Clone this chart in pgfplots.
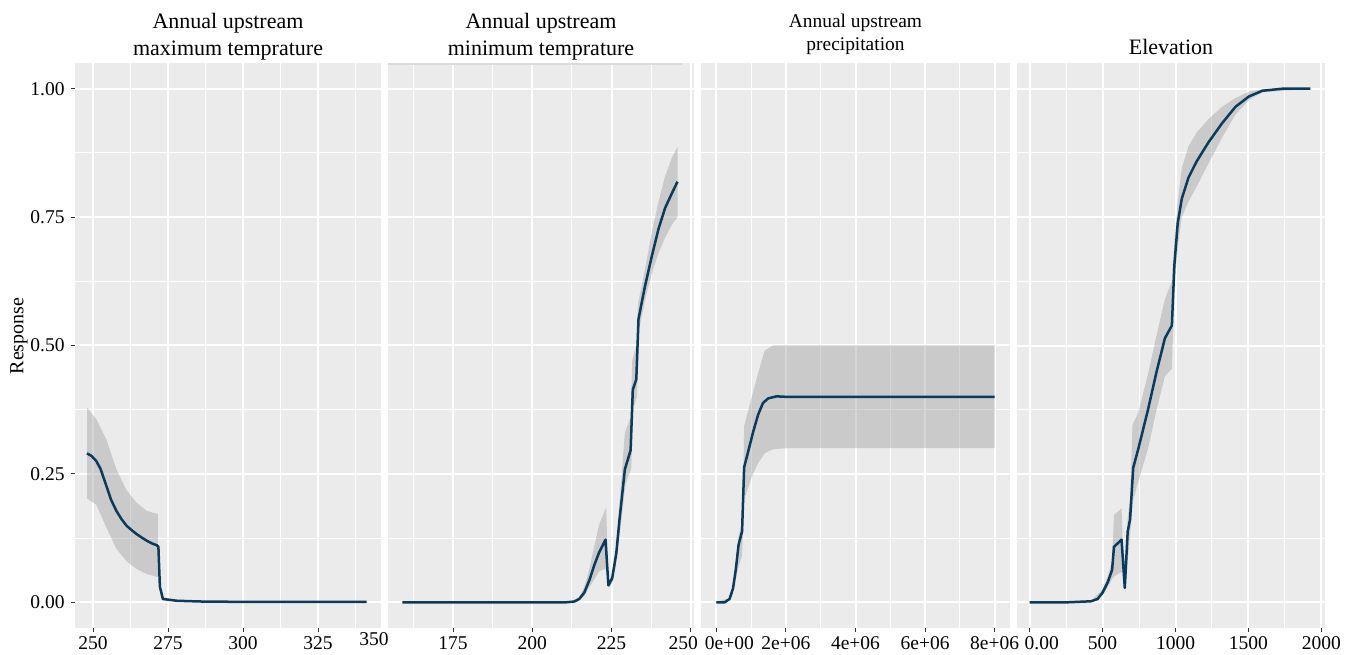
\documentclass[border=0pt]{standalone}
\usepackage{fontspec}
\setmainfont{Liberation Serif}
\usepackage{pgfplots}
\pgfplotsset{compat=1.18}
\definecolor{bg}{HTML}{EBEBEB}
\definecolor{ln}{HTML}{0B3B5C}
\definecolor{rib}{HTML}{999999}
\definecolor{band}{HTML}{DADADA}
\pgfplotsset{gg/.style={
  scale only axis, height=282.5pt,
  anchor=south west,
  axis background/.style={fill=bg},
  axis line style={draw=none},
  ymin=-0.05, ymax=1.05,
  ytick={0,0.25,0.5,0.75,1},
  minor ytick={0.125,0.375,0.625,0.875},
  grid=both,
  major grid style={white, line width=1pt},
  minor grid style={white, line width=0.5pt},
  tick pos=left,
  tick align=outside, major tick length=2pt, minor tick length=0pt,
  tick style={color=black!80, line width=0.5pt},
  ticklabel style={font=\fontsize{9.75}{11.7}\selectfont},
  /pgf/number format/assume math mode=true,
  xticklabel style={anchor=north, inner sep=0pt, yshift=-2.3pt},
  clip mode=individual,
},
ggno/.style={yticklabels={}, ytick style={draw opacity=0}},
rb/.style={fill=rib, fill opacity=0.4, draw=none, forget plot},
cv/.style={color=ln, line width=1.25pt, no marks, line join=round},
}
\begin{document}
\begin{tikzpicture}
\path[use as bounding box] (0,0) rectangle (675pt,327pt);

% Panel 1
\begin{axis}[gg, name=p1, at={(37.5pt,13pt)}, width=153pt,
  xmin=244, xmax=346,
  xtick={250,275,300,325}, minor xtick={262.5,287.5,312.5,337.5},
  extra x ticks={343.7}, extra x tick labels={\raisebox{1.75pt}{350}},
  extra x tick style={grid=none, major tick length=0pt},
  yticklabels={0.00,0.25,0.50,0.75,1.00},
  yticklabel style={anchor=east, inner sep=0pt, xshift=-3pt}]
\addplot[rb] coordinates {(248,0.379)(251.1,0.357)(254.5,0.316)(257.8,0.259)(261.2,0.218)(264.5,0.194)(267.9,0.178)(271.6,0.172)(271.6,0.049)(267.9,0.055)(264.5,0.065)(261.2,0.08)(257.8,0.104)(254.5,0.145)(251.1,0.19)(248,0.202)};
\addplot[cv] coordinates {(248,0.29)(249.5,0.285)(251.1,0.275)(252.5,0.26)(254.5,0.226)(256,0.2)(257.8,0.178)(259.5,0.162)(261.2,0.149)(263,0.14)(264.5,0.133)(266,0.127)(267.9,0.12)(269.5,0.115)(271.3,0.111)(271.8,0.108)(272.3,0.03)(273.3,0.0065)(278,0.003)(285.8,0.0016)(297,0.001)(341.2,0.001)};
\end{axis}

% Panel 2
\begin{axis}[gg, ggno, name=p2, at={(194pt,13pt)}, width=153pt,
  xmin=154.5, xmax=251,
  xtick={175,200,225,250}, minor xtick={162.5,187.5,212.5,237.5},
  xticklabels={175,200,225,{250\hspace*{7.6pt}}}]
\addplot[rb] coordinates {(159,0.001)(213,0.002)(214.8,0.01)(216.4,0.03)(218,0.065)(219.6,0.11)(221,0.15)(223.3,0.185)(224,0.04)(225.2,0.055)(226.5,0.11)(227.5,0.19)(229.2,0.33)(231,0.36)(231.5,0.47)(232.8,0.5)(233.3,0.58)(235.6,0.65)(237.7,0.72)(239.8,0.78)(241.9,0.83)(244,0.865)(245.8,0.887)
(245.8,0.75)(244,0.735)(241.9,0.71)(239.8,0.68)(237.7,0.64)(235.6,0.59)(233.7,0.53)(233,0.40)(231.9,0.38)(231.2,0.26)(229.4,0.23)(227.7,0.14)(226.7,0.085)(225.4,0.04)(224.2,0.028)(223.3,0.066)(221,0.06)(219.6,0.045)(218,0.03)(216.4,0.012)(214.8,0.004)(213,0)(159,0)};
\addplot[cv] coordinates {(159,0)(210.6,0)(213.2,0.0015)(214.8,0.0065)(216.4,0.019)(218,0.043)(219.6,0.073)(221,0.096)(223.1,0.122)(224,0.033)(225.2,0.047)(226.5,0.096)(227.5,0.161)(229.2,0.259)(231,0.296)(231.7,0.414)(232.8,0.434)(233.5,0.552)(235.6,0.617)(237.7,0.674)(239.8,0.727)(241.9,0.768)(244,0.796)(245.8,0.819)};
\end{axis}
\fill[band] ([yshift=-1.2pt]p2.north west) rectangle ([xshift=-6pt]p2.north east);

% Panel 3
\begin{axis}[gg, ggno, name=p3, at={(350.5pt,13pt)}, width=154.5pt,
  xmin=-0.44e6, xmax=8.44e6,
  xtick={0,2e6,4e6,6e6,8e6}, minor xtick={1e6,3e6,5e6,7e6},
  xticklabels={{\hspace*{13pt}0e+00},2e+06,4e+06,6e+06,8e+06},
  scaled x ticks=false]
\addplot[rb] coordinates {(0,0.001)(0.38e6,0.008)(0.48e6,0.032)(0.56e6,0.075)(0.64e6,0.13)(0.76e6,0.16)(0.8e6,0.344)(1.01e6,0.397)(1.2e6,0.446)(1.39e6,0.49)(1.63e6,0.5)(2e6,0.5)(8e6,0.5)
(8e6,0.3)(2e6,0.3)(1.63e6,0.298)(1.39e6,0.29)(1.2e6,0.271)(1.01e6,0.243)(0.8e6,0.2)(0.74e6,0.09)(0.64e6,0.07)(0.56e6,0.045)(0.48e6,0.02)(0.38e6,0.005)(0,0)};
\addplot[cv] coordinates {(0,0)(0.24e6,0)(0.38e6,0.0065)(0.48e6,0.027)(0.56e6,0.064)(0.64e6,0.112)(0.74e6,0.138)(0.8e6,0.263)(0.91e6,0.292)(1.06e6,0.332)(1.2e6,0.365)(1.34e6,0.388)(1.49e6,0.397)(1.73e6,0.401)(2.02e6,0.4)(8e6,0.4)};
\end{axis}

% Panel 4
\begin{axis}[gg, ggno, name=p4, at={(508.5pt,13pt)}, width=154pt,
  xmin=-87, xmax=2025,
  xtick={0,500,1000,1500,2000}, minor xtick={250,750,1250,1750},
  xticklabels={{\hspace*{12pt}0.00},500,1000,1500,2000}]
\addplot[rb] coordinates {(0,0.001)(420,0.003)(500,0.025)(535,0.05)(565,0.08)(578,0.17)(630,0.183)(640,0.1)(652,0.035)(672,0.165)(688,0.2)(705,0.345)(745,0.37)(812,0.445)(870,0.52)(927,0.59)(975,0.625)(992,0.70)(1015,0.78)(1043,0.845)(1089,0.888)(1146,0.915)(1227,0.941)(1320,0.965)(1412,0.982)(1504,0.994)(1596,0.999)(1924,1.0)
(1924,1.0)(1596,0.993)(1504,0.978)(1412,0.95)(1320,0.905)(1227,0.855)(1146,0.81)(1089,0.78)(1043,0.75)(1015,0.69)(992,0.61)(975,0.455)(927,0.44)(870,0.375)(812,0.30)(745,0.235)(710,0.20)(688,0.13)(672,0.08)(655,0.02)(635,0.06)(578,0.05)(565,0.045)(535,0.03)(500,0.014)(420,0.001)(0,0)};
\addplot[cv] coordinates {(0,0)(258,0)(420,0.002)(466,0.0065)(500,0.019)(535,0.039)(565,0.063)(578,0.108)(630,0.122)(652,0.028)(672,0.138)(688,0.161)(710,0.262)(745,0.299)(812,0.376)(870,0.449)(927,0.514)(975,0.539)(992,0.656)(1015,0.738)(1043,0.786)(1089,0.827)(1146,0.859)(1227,0.896)(1320,0.933)(1412,0.965)(1504,0.985)(1596,0.996)(1735,1.0)(1924,1.0)};
\end{axis}

% Titles
\node[anchor=base, font=\fontsize{11}{13}\selectfont] at ([yshift=17pt]p1.north) {Annual upstream};
\node[anchor=base, font=\fontsize{11}{13}\selectfont] at ([yshift=3.5pt]p1.north) {maximum temprature};
\node[anchor=base, font=\fontsize{11}{13}\selectfont] at ([yshift=17pt]p2.north) {Annual upstream};
\node[anchor=base, font=\fontsize{11}{13}\selectfont] at ([yshift=3.5pt]p2.north) {minimum temprature};
\node[anchor=base, font=\fontsize{9.7}{11}\selectfont] at ([yshift=17.75pt]p3.north) {Annual upstream};
\node[anchor=base, font=\fontsize{9.7}{11}\selectfont] at ([yshift=6.25pt]p3.north) {precipitation};
\node[anchor=base, font=\fontsize{11}{13}\selectfont] at ([yshift=4pt]p4.north) {Elevation};
\node[rotate=90, font=\fontsize{10}{12}\selectfont] at (9.5pt,159pt) {Response};
\end{tikzpicture}
\end{document}
